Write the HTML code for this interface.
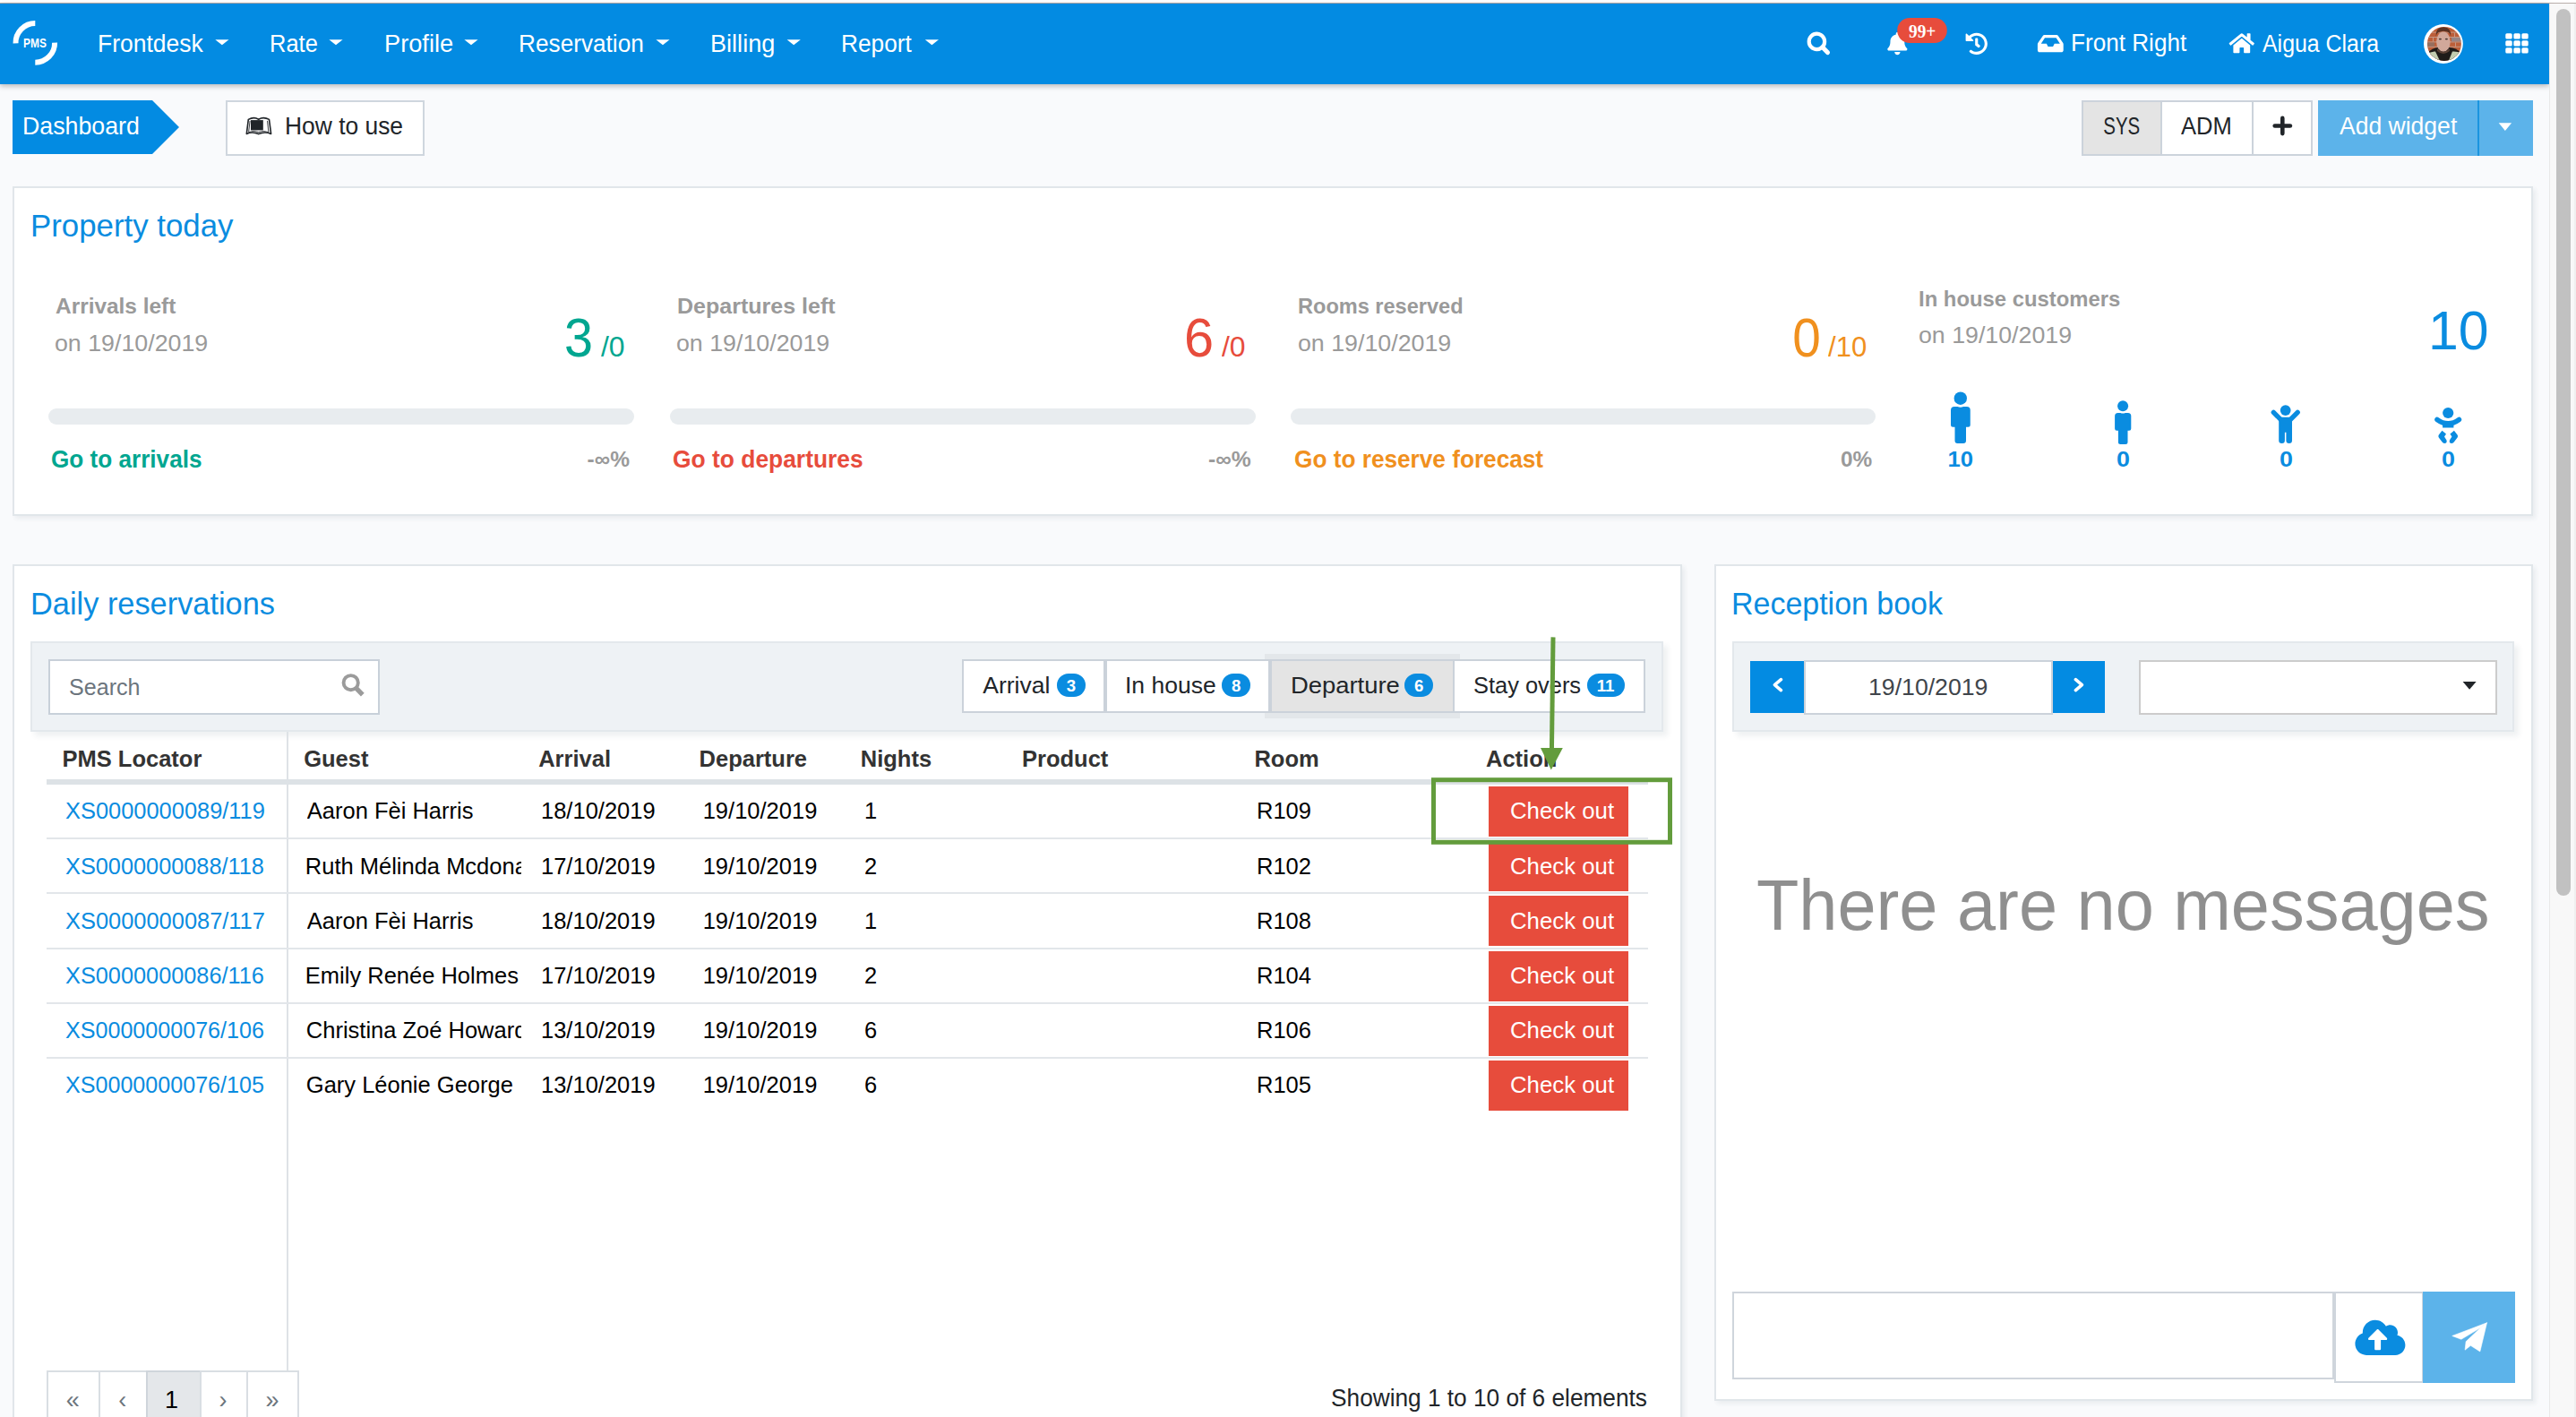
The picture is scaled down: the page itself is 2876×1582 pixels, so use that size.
<!DOCTYPE html>
<html lang="en"><head><meta charset="utf-8"><title>PMS Dashboard</title>
<style>
*{box-sizing:border-box;margin:0;padding:0}
html,body{width:2876px;height:1582px;overflow:hidden;background:#f9fafc;font-family:"Liberation Sans",Arial,sans-serif}
.a{position:absolute}
.t{position:absolute;white-space:nowrap;line-height:1;font-family:"Liberation Sans",Arial,sans-serif}
.card{position:absolute;background:#fff;border:2px solid #e1e6ea;box-shadow:3px 3px 5px rgba(30,50,70,.07)}
.bar{position:absolute;height:18px;border-radius:9px;background:#e8ecef}
.tb{position:absolute;background:#eef2f5;border:2px solid #e3e8ec;box-shadow:5px 5px 6px rgba(30,50,70,.07)}
.hl{position:absolute;background:#e2e6ea;height:2px}
.btn{position:absolute;background:#e74c3c;width:156px;height:56px}
.badge{position:absolute;background:#0a8ce0;height:26px;border-radius:13px;top:752px}
.pg{position:absolute;top:1530px;height:60px;border:2px solid #d9dee3;background:#fff}
</style></head><body>
<!-- browser top edge -->
<div class="a" style="left:0;top:0;width:2876px;height:3px;background:#fff"></div>
<div class="a" style="left:0;top:3px;width:2876px;height:1px;background:#b9aeaa"></div>

<!-- navbar -->
<div class="a" style="left:0;top:4px;width:2846px;height:90px;background:#038be2;box-shadow:0 2px 6px rgba(0,0,0,.28)"></div>
<svg class="a" style="left:0;top:0" width="2846" height="96" viewBox="0 0 2846 96">
  <g fill="none" stroke="#fff" stroke-width="6">
    <path d="M17.5 48.4 A21.8 21.8 0 0 1 39.3 26.1"/>
    <path d="M61.1 47.6 A21.8 21.8 0 0 1 39.3 69.7"/>
  </g>
  <text x="26.1" y="53.1" font-family="Liberation Sans, Arial, sans-serif" font-weight="700" font-size="14.6" fill="#fff" textLength="25.8" lengthAdjust="spacingAndGlyphs">PMS</text>
  <g fill="#fff">
    <polygon points="240.3,44.3 255.5,44.3 247.9,50.3"/>
    <polygon points="367.4,44.3 382.6,44.3 375,50.3"/>
    <polygon points="518.4,44.3 533.6,44.3 526,50.3"/>
    <polygon points="732.4,44.3 747.6,44.3 740,50.3"/>
    <polygon points="878.6,44.3 893.8,44.3 886.2,50.3"/>
    <polygon points="1032.8,44.3 1048,44.3 1040.4,50.3"/>
  </g>
  <!-- search -->
  <g stroke="#fff" fill="none">
    <circle cx="2028.4" cy="46.4" r="8.7" stroke-width="4.2"/>
    <line x1="2034.8" y1="52.8" x2="2040.4" y2="58.6" stroke-width="5" stroke-linecap="round"/>
  </g>
  <!-- bell -->
  <path fill="#fff" transform="translate(2107.3 36) scale(0.0493)" d="M224 512c35.32 0 63.97-28.65 63.97-64H160.03c0 35.35 28.65 64 63.97 64zm215.39-149.71c-19.32-20.76-55.470-51.99-55.47-154.29 0-77.7-54.48-139.9-127.94-155.16V32c0-17.67-14.32-32-31.98-32s-31.98 14.33-31.98 32v20.84C118.56 68.1 64.08 130.3 64.08 208c0 102.3-36.15 133.53-55.47 154.290-6 6.45-8.66 14.16-8.61 21.71.11 16.4 12.98 32 32.1 32h383.8c19.12 0 32-15.6 32.1-32 .05-7.55-2.61-15.27-8.61-21.710z"/>
  <rect x="2118.2" y="20" width="55.6" height="28" rx="14" fill="#e74c3c"/>
  <!-- history -->
  <path fill="#fff" transform="translate(2194.2 36.3) scale(0.049)" d="M504 255.531c.253 136.64-111.18 248.372-247.82 248.468-59.015.042-113.223-20.53-155.822-54.911-11.077-8.94-11.905-25.541-1.839-35.607l11.267-11.267c8.609-8.609 22.353-9.551 31.891-1.984C173.062 425.135 212.781 440 256 440c101.705 0 184-82.311 184-184 0-101.705-82.311-184-184-184-48.814 0-93.149 18.969-126.068 49.932l50.754 50.754c10.080 10.080 2.941 27.314-11.313 27.314H24c-8.837 0-16-7.163-16-16V38.627c0-14.254 17.234-21.393 27.314-11.314l49.372 49.372C129.209 34.136 189.552 8 256 8c136.81 0 247.747 110.78 248 247.531zm-180.912 78.784l9.823-12.63c8.138-10.463 6.253-25.542-4.21-33.679L288 256.349V152c0-13.255-10.745-24-24-24h-16c-13.255 0-24 10.745-24 24v135.651l65.409 50.874c10.463 8.137 25.541 6.253 33.679-4.210z"/>
  <!-- inbox -->
  <path fill="#fff" transform="translate(2274.9 35.9) scale(0.05)" d="M567.938 243.908L462.25 85.374A48.003 48.003 0 0 0 422.311 64H153.689a48 48 0 0 0-39.938 21.374L8.062 243.908A47.994 47.994 0 0 0 0 270.533V400c0 26.51 21.49 48 48 48h480c26.51 0 48-21.490 48-48V270.533a47.994 47.994 0 0 0-8.062-26.625zM162.252 128h251.497l85.333 128H376l-32 64H232l-32-64H76.918l85.334-128z"/>
  <!-- home -->
  <path fill="#fff" transform="translate(2488.7 35.8) scale(0.0489)" d="M280.37 148.26L96 300.11V464a16 16 0 0 0 16 16l112.06-.29a16 16 0 0 0 15.92-16V368a16 16 0 0 1 16-16h64a16 16 0 0 1 16 16v95.64a16 16 0 0 0 16 16.05L464 480a16 16 0 0 0 16-16V300L295.67 148.26a12.19 12.19 0 0 0-15.3 0zM571.6 251.47L488 182.56V44.05a12 12 0 0 0-12-12h-56a12 12 0 0 0-12 12v72.61L318.47 43a48 48 0 0 0-61 0L4.34 251.47a12 12 0 0 0-1.6 16.9l25.5 31A12 12 0 0 0 45.150 301l235.22-193.74a12.19 12.19 0 0 1 15.3 0L530.9 301a12 12 0 0 0 16.9-1.6l25.5-31a12 12 0 0 0-1.7-16.93z"/>
  <!-- avatar -->
  <defs><clipPath id="av"><circle cx="2728.9" cy="48.9" r="19"/></clipPath></defs>
  <circle cx="2727.9" cy="49" r="21.9" fill="#fff"/>
  <g clip-path="url(#av)">
    <rect x="2709" y="29" width="40" height="40" fill="#bd5f3a"/>
    <g fill="#c9b2a6" opacity=".7">
      <rect x="2709" y="35.6" width="40" height="1"/><rect x="2709" y="41" width="40" height="1"/>
      <rect x="2709" y="46.4" width="40" height="1"/><rect x="2709" y="51.8" width="40" height="1"/>
      <rect x="2713" y="29" width="1" height="6.6"/><rect x="2740" y="36.6" width="1" height="4.4"/><rect x="2716" y="42" width="1" height="4.4"/><rect x="2741" y="47.4" width="1" height="4.4"/>
    </g>
    <rect x="2737" y="42" width="11" height="4.4" fill="#8d8f98" opacity=".8"/>
    <rect x="2710" y="47.4" width="8" height="4.4" fill="#7d7a78" opacity=".6"/>
    <path d="M2709 70 L2709 60 Q2716 53 2722 53 L2735 53 Q2742 53 2749 60 L2749 70 Z" fill="#1f1b19"/>
    <path d="M2709 70 L2709 61 Q2714 57 2719 57.5 L2725 70 Z" fill="#c2ccb0"/>
    <path d="M2749 70 L2749 60 Q2744 57 2738 57.5 L2733 70 Z" fill="#c2ccb0"/>
    <ellipse cx="2727.9" cy="46.6" rx="7.8" ry="11.2" fill="#d1a89a"/>
    <path d="M2721 54 Q2727.9 61.5 2734.8 54 L2734.8 57 Q2727.9 63 2721 57 Z" fill="#6a4a3c" opacity=".8"/>
    <ellipse cx="2724.4" cy="43.6" rx="1.6" ry="0.9" fill="#4d3a33"/>
    <ellipse cx="2731.4" cy="43.6" rx="1.6" ry="0.9" fill="#4d3a33"/>
    <path d="M2719.6 41 Q2718.6 30.6 2727.9 30.2 Q2737.4 30.6 2736.2 41 Q2735.2 35.4 2731 35.2 Q2727.9 34.2 2724.6 35.4 Q2720.6 35.6 2719.6 41 Z" fill="#5a3222"/>
  </g>
  <!-- grid -->
  <g fill="#fff">
    <rect x="2797.3" y="37.2" width="7.4" height="6.3" rx="1.6"/><rect x="2806.4" y="37.2" width="7.4" height="6.3" rx="1.6"/><rect x="2815.3" y="37.2" width="7.4" height="6.3" rx="1.6"/>
    <rect x="2797.3" y="45.2" width="7.4" height="6.3" rx="1.6"/><rect x="2806.4" y="45.2" width="7.4" height="6.3" rx="1.6"/><rect x="2815.3" y="45.2" width="7.4" height="6.3" rx="1.6"/>
    <rect x="2797.3" y="53.2" width="7.4" height="6.3" rx="1.6"/><rect x="2806.4" y="53.2" width="7.4" height="6.3" rx="1.6"/><rect x="2815.3" y="53.2" width="7.4" height="6.3" rx="1.6"/>
  </g>
</svg>

<!-- sub header -->
<svg class="a" style="left:0;top:100px" width="210" height="80" viewBox="0 100 210 80"><polygon points="14,112 170,112 200,142 170,172 14,172" fill="#038be2"/></svg>
<div class="a" style="left:252px;top:112px;width:222px;height:62px;background:#fff;border:2px solid #cfd6de"></div>
<svg class="a" style="left:270px;top:126px" width="40" height="30" viewBox="270 126 40 30">
  <rect x="280" y="134.1" width="13.8" height="11.3" fill="#212529"/>
  <path d="M277.3 133.4 Q283.3 130 288.7 133.2 Q294.2 130 300.5 133.4 L302.6 149.4 Q295.6 146.4 288.7 149.6 Q281.8 146.4 275.3 149.4 Z" fill="none" stroke="#212529" stroke-width="1.6" stroke-linejoin="round"/>
  <path d="M279.1 134.9 L277.6 147.6 Q283.4 145.4 288.7 147.5 Q294.1 145.4 299.9 147.6 L298.5 134.9" fill="none" stroke="#212529" stroke-width="0.9"/>
</svg>
<div class="a" style="left:2324px;top:112px;width:258px;height:62px;background:#fff;border:2px solid #ccd3db"></div>
<div class="a" style="left:2326px;top:114px;width:86px;height:58px;background:#e4e4e4"></div>
<div class="a" style="left:2412px;top:114px;width:2px;height:58px;background:#ccd3db"></div>
<div class="a" style="left:2514px;top:114px;width:2px;height:58px;background:#ccd3db"></div>
<svg class="a" style="left:2530px;top:124px" width="36" height="34" viewBox="2530 124 36 34"><g stroke="#212529" stroke-width="4.6" stroke-linecap="round"><line x1="2548.3" y1="131.9" x2="2548.3" y2="149.1"/><line x1="2539.7" y1="140.5" x2="2556.9" y2="140.5"/></g></svg>
<div class="a" style="left:2588px;top:112px;width:240px;height:62px;background:#5cb3ea"></div>
<div class="a" style="left:2766px;top:112px;width:2px;height:62px;background:#1b95df"></div>
<svg class="a" style="left:2785px;top:132px" width="24" height="18" viewBox="2785 132 24 18"><polygon points="2789.7,137.3 2804.1,137.3 2796.9,145.9" fill="#fff"/></svg>

<!-- Property today card -->
<div class="card" style="left:14px;top:208px;width:2814px;height:368px"></div>
<div class="bar" style="left:54px;top:456px;width:654px"></div>
<div class="bar" style="left:747.6px;top:456px;width:654px"></div>
<div class="bar" style="left:1441.2px;top:456px;width:653px"></div>
<svg class="a" style="left:2160px;top:430px" width="600" height="70" viewBox="2160 430 600 70">
  <g fill="#0a8ce0">
    <!-- adult -->
    <circle cx="2188.8" cy="444.7" r="7.2"/>
    <path d="M2182 454 L2185.6 454 Q2188.8 455.4 2192 454 L2195.75 454 Q2199.75 454 2199.75 458 L2199.75 474.3 Q2199.75 476.8 2197.25 476.8 L2195 476.8 L2195 492 Q2195 495 2192 495 L2185.5 495 Q2182.5 495 2182.5 492 L2182.5 476.8 L2180.5 476.8 Q2178 476.8 2178 474.3 L2178 458 Q2178 454 2182 454 Z"/>
    <!-- teen -->
    <circle cx="2370.1" cy="453.2" r="6.0"/>
    <path d="M2364.6 460.9 L2367.4 460.9 Q2370.1 462 2372.8 460.9 L2375.8 460.9 Q2379.3 460.9 2379.3 464.4 L2379.3 478.6 Q2379.3 480.8 2377.1 480.8 L2375.5 480.8 L2375.5 493.4 Q2375.5 495.9 2373 495.9 L2367.4 495.9 Q2364.9 495.9 2364.9 493.4 L2364.9 480.8 L2363.3 480.8 Q2361.1 480.8 2361.1 478.6 L2361.1 464.4 Q2361.1 460.9 2364.6 460.9 Z"/>
    <!-- child -->
    <circle cx="2551.7" cy="458.1" r="5.9"/>
    <g stroke="#0a8ce0" stroke-width="5.4" stroke-linecap="round"><line x1="2538.3" y1="460.3" x2="2546.5" y2="468.6"/><line x1="2565.2" y1="460.3" x2="2557" y2="468.6"/></g>
    <path d="M2544.2 465.8 L2559 465.8 L2559 491.8 Q2559 495.1 2555.7 495.1 Q2552.4 495.1 2552.4 491.8 L2552.4 482.8 L2550.9 482.8 L2550.9 491.8 Q2550.9 495.1 2547.55 495.1 Q2544.2 495.1 2544.2 491.8 Z"/>
    <!-- baby -->
    <circle cx="2733.2" cy="461" r="6.1"/>
    <path d="M2721 468.4 Q2727 472.8 2733.2 472.8 Q2739.4 472.8 2745.4 468.4" fill="none" stroke="#0a8ce0" stroke-width="5.6" stroke-linecap="round"/>
    <rect x="2727.1" y="470" width="12.3" height="7.5"/>
    <path d="M2726.5 480.7 L2731 484.4 L2729 487.4 L2731.4 491.2 Q2732.6 494.8 2729 494.9 Q2727.6 494.9 2726.6 493.6 L2722.8 488.4 Q2721.8 486.9 2722.8 485.5 Z"/>
    <path d="M2739.9 480.7 L2735.4 484.4 L2737.4 487.4 L2735 491.2 Q2733.8 494.8 2737.4 494.9 Q2738.8 494.9 2739.8 493.6 L2743.6 488.4 Q2744.6 486.9 2743.6 485.5 Z"/>
  </g>
</svg>

<!-- Daily reservations card -->
<div class="card" style="left:14px;top:630px;width:1864px;height:1010px"></div>
<div class="tb" style="left:34px;top:716px;width:1823px;height:101px"></div>
<div class="a" style="left:54px;top:736px;width:370px;height:62px;background:#fff;border:2px solid #c8d0d9"></div>
<svg class="a" style="left:376px;top:747px" width="36" height="36" viewBox="376 747 36 36"><g stroke="#9b9b9b" fill="none"><circle cx="391.7" cy="762.2" r="8.1" stroke-width="3.9"/><line x1="398" y1="768.6" x2="404.8" y2="775.6" stroke-width="5.2" stroke-linecap="butt"/></g></svg>
<!-- tabs -->
<div class="a" style="left:1412px;top:730px;width:218px;height:72px;background:#e3e7ea"></div>
<div class="a" style="left:1074px;top:736px;width:344px;height:60px;background:#fff;border:2px solid #cbd2da"></div>
<div class="a" style="left:1232px;top:738px;width:4px;height:56px;background:#cbd2da"></div>
<div class="a" style="left:1418px;top:736px;width:206px;height:60px;background:#e4e4e4;border:2px solid #cbd2da"></div>
<div class="a" style="left:1622px;top:736px;width:215px;height:60px;background:#fff;border:2px solid #cbd2da"></div>
<div class="badge" style="left:1180px;width:32px"></div>
<div class="badge" style="left:1364px;width:32px"></div>
<div class="badge" style="left:1568px;width:32px"></div>
<div class="badge" style="left:1772px;width:42px"></div>
<!-- table lines -->
<div class="a" style="left:320px;top:817px;width:2px;height:713px;background:#dee2e6"></div>
<div class="a" style="left:52px;top:870px;width:1788px;height:6px;background:#dde2e6"></div>
<div class="hl" style="left:52px;top:935.2px;width:1788px"></div>
<div class="hl" style="left:52px;top:996.4px;width:1788px"></div>
<div class="hl" style="left:52px;top:1057.6px;width:1788px"></div>
<div class="hl" style="left:52px;top:1118.8px;width:1788px"></div>
<div class="hl" style="left:52px;top:1180px;width:1788px"></div>
<div class="btn" style="left:1662px;top:878px"></div>
<div class="btn" style="left:1662px;top:939.2px"></div>
<div class="btn" style="left:1662px;top:1000.4px"></div>
<div class="btn" style="left:1662px;top:1061.6px"></div>
<div class="btn" style="left:1662px;top:1122.8px"></div>
<div class="btn" style="left:1662px;top:1184px"></div>
<!-- pagination -->
<div class="pg" style="left:52px;width:60px"></div>
<div class="pg" style="left:110px;width:55px"></div>
<div class="pg" style="left:163px;width:62px;background:#e4e7ea;border-color:#cfd5db"></div>
<div class="pg" style="left:223px;width:54px"></div>
<div class="pg" style="left:275px;width:59px"></div>

<!-- Reception book card -->
<div class="card" style="left:1914px;top:630px;width:914px;height:934px"></div>
<div class="tb" style="left:1934px;top:716px;width:873px;height:101px"></div>
<div class="a" style="left:1954px;top:738px;width:60px;height:58px;background:#038be2"></div>
<div class="a" style="left:2292px;top:738px;width:58px;height:58px;background:#038be2"></div>
<div class="a" style="left:2014px;top:736.5px;width:278px;height:61px;background:#fff;border:2px solid #cbd2da"></div>
<svg class="a" style="left:1970px;top:750px" width="370" height="30" viewBox="1970 750 370 30"><g fill="none" stroke="#fff" stroke-width="3.6" stroke-linecap="round" stroke-linejoin="round"><polyline points="1988.4,758.6 1981.4,764.6 1988.4,770.6"/><polyline points="2317.4,758.6 2324.4,764.6 2317.4,770.6"/></g></svg>
<div class="a" style="left:2388px;top:736.5px;width:400px;height:61px;background:#fff;border:2px solid #cccccc"></div>
<svg class="a" style="left:2745px;top:757px" width="24" height="16" viewBox="2745 757 24 16"><polygon points="2749.6,761 2764.6,761 2757.1,769.8" fill="#212529"/></svg>
<div class="a" style="left:1934px;top:1442px;width:672px;height:98px;background:#fff;border:2px solid #cfd5dc"></div>
<div class="a" style="left:2606px;top:1442px;width:100px;height:102px;background:#fff;border:2px solid #cfd5dc"></div>
<div class="a" style="left:2705px;top:1442px;width:103px;height:102px;background:#5cb3ea"></div>
<svg class="a" style="left:2620px;top:1465px" width="80" height="56" viewBox="2620 1465 80 56">
  <path fill="#0a8ce0" transform="translate(2629.4 1470.9) scale(0.0875)" d="M537.6 226.6c4.1-10.7 6.4-22.4 6.4-34.6 0-53-43-96-96-96-19.7 0-38.1 6-53.3 16.2C367 64.2 315.3 32 256 32c-88.4 0-160 71.6-160 160 0 2.7.1 5.4.2 8.1C40.2 219.8 0 273.2 0 336c0 79.5 64.5 144 144 144h368c70.7 0 128-57.3 128-128 0-61.9-44-113.6-102.4-125.4zM393.4 288H328v112c0 8.8-7.2 16-16 16h-48c-8.8 0-16-7.2-16-16V288h-65.4c-14.3 0-21.4-17.2-11.3-27.3l105.4-105.4c6.2-6.2 16.4-6.2 22.6 0l105.4 105.4c10.1 10.1 2.9 27.3-11.3 27.3z"/>
</svg>
<svg class="a" style="left:2730px;top:1468px" width="56" height="48" viewBox="2730 1468 56 48">
  <g fill="#fff" stroke="#fff" stroke-width="0.6" stroke-linejoin="round">
    <path d="M2737.75 1491.45 L2776.53 1476.77 L2769.55 1482.36 L2747.88 1495.29 Z"/>
    <path d="M2776.53 1476.77 L2768.85 1508.92 L2758.36 1502.28 L2752.08 1507.17 L2753.12 1497.74 L2769.55 1482.36 Z"/>
  </g>
</svg>

<div class="t" style="left:108.60px;top:35.60px;font-size:27px;color:#ffffff;transform:scaleX(0.9802);transform-origin:2.00px 0;">Frontdesk</div>
<div class="t" style="left:301.00px;top:35.60px;font-size:27px;color:#ffffff;transform:scaleX(0.9405);transform-origin:2.00px 0;">Rate</div>
<div class="t" style="left:428.50px;top:35.60px;font-size:27px;color:#ffffff;transform:scaleX(1.0080);transform-origin:2.00px 0;">Profile</div>
<div class="t" style="left:579.30px;top:35.60px;font-size:27px;color:#ffffff;transform:scaleX(0.9698);transform-origin:2.00px 0;">Reservation</div>
<div class="t" style="left:793.30px;top:35.60px;font-size:27px;color:#ffffff;transform:scaleX(1.0041);transform-origin:2.00px 0;">Billing</div>
<div class="t" style="left:939.40px;top:35.60px;font-size:27px;color:#ffffff;transform:scaleX(0.9706);transform-origin:2.00px 0;">Report</div>
<div class="t" style="left:2312.20px;top:35.30px;font-size:27px;color:#ffffff;transform:scaleX(0.9671);transform-origin:2.00px 0;">Front Right</div>
<div class="t" style="left:2526.20px;top:35.50px;font-size:27px;color:#ffffff;transform:scaleX(0.9221);transform-origin:0.00px 0;">Aigua Clara</div>
<div class="t" style="left:2131.00px;top:24.90px;font-size:20px;color:#ffffff;font-weight:700;transform:scaleX(0.9677);transform-origin:0.00px 0;font-family:'Liberation Serif', 'Times New Roman', serif;">99+</div>
<div class="t" style="left:25.30px;top:127.25px;font-size:27.5px;color:#ffffff;transform:scaleX(0.9715);transform-origin:2.00px 0;">Dashboard</div>
<div class="t" style="left:318.30px;top:127.05px;font-size:27.5px;color:#212529;transform:scaleX(0.9588);transform-origin:2.00px 0;">How to use</div>
<div class="t" style="left:2348.10px;top:126.55px;font-size:27.5px;color:#212529;transform:scaleX(0.7432);transform-origin:1.00px 0;">SYS</div>
<div class="t" style="left:2435.00px;top:126.55px;font-size:27.5px;color:#212529;transform:scaleX(0.9290);transform-origin:0.00px 0;">ADM</div>
<div class="t" style="left:2612.10px;top:126.65px;font-size:27.5px;color:#ffffff;transform:scaleX(0.9646);transform-origin:0.00px 0;">Add widget</div>
<div class="t" style="left:33.70px;top:235.45px;font-size:34.5px;color:#0a8ce0;transform:scaleX(1.0093);transform-origin:2.00px 0;">Property today</div>
<div class="t" style="left:61.80px;top:330.05px;font-size:24.5px;color:#9a9a9a;font-weight:700;transform:scaleX(0.9966);transform-origin:0.00px 0;">Arrivals left</div>
<div class="t" style="left:61.40px;top:371.05px;font-size:25.5px;color:#9a9a9a;transform:scaleX(1.0504);transform-origin:1.00px 0;">on 19/10/2019</div>
<div class="t" style="left:57.40px;top:498.65px;font-size:27.3px;color:#00a690;font-weight:700;transform:scaleX(0.9571);transform-origin:1.00px 0;">Go to arrivals</div>
<div class="t" style="left:755.90px;top:330.05px;font-size:24.5px;color:#9a9a9a;font-weight:700;transform:scaleX(1.0218);transform-origin:1.00px 0;">Departures left</div>
<div class="t" style="left:755.00px;top:371.05px;font-size:25.5px;color:#9a9a9a;transform:scaleX(1.0504);transform-origin:1.00px 0;">on 19/10/2019</div>
<div class="t" style="left:751.00px;top:498.65px;font-size:27.3px;color:#e74c3c;font-weight:700;transform:scaleX(0.9669);transform-origin:1.00px 0;">Go to departures</div>
<div class="t" style="left:1449.30px;top:330.05px;font-size:24.5px;color:#9a9a9a;font-weight:700;transform:scaleX(0.9609);transform-origin:1.00px 0;">Rooms reserved</div>
<div class="t" style="left:1448.60px;top:371.05px;font-size:25.5px;color:#9a9a9a;transform:scaleX(1.0504);transform-origin:1.00px 0;">on 19/10/2019</div>
<div class="t" style="left:1444.60px;top:498.65px;font-size:27.3px;color:#f0901e;font-weight:700;transform:scaleX(0.9595);transform-origin:1.00px 0;">Go to reserve forecast</div>
<div class="t" style="left:629.70px;top:347.10px;font-size:61px;color:#00a690;transform:scaleX(0.9433);transform-origin:2.00px 0;">3</div>
<div class="t" style="left:670.60px;top:372.05px;font-size:30.5px;color:#00a690;transform:scaleX(1.0460);transform-origin:0.00px 0;">/0</div>
<div class="t" style="left:1322.20px;top:347.10px;font-size:61px;color:#e74c3c;transform:scaleX(0.9759);transform-origin:3.00px 0;">6</div>
<div class="t" style="left:1364.20px;top:372.05px;font-size:30.5px;color:#e74c3c;transform:scaleX(1.0460);transform-origin:0.00px 0;">/0</div>
<div class="t" style="left:2001.10px;top:347.10px;font-size:61px;color:#f0901e;transform:scaleX(0.9300);transform-origin:2.00px 0;">0</div>
<div class="t" style="left:2040.90px;top:371.75px;font-size:30.5px;color:#f0901e;transform:scaleX(1.0184);transform-origin:0.00px 0;">/10</div>
<div class="t" style="left:655.60px;top:501.15px;font-size:24.5px;color:#9a9a9a;font-weight:700;">-∞%</div>
<div class="t" style="left:1348.60px;top:501.15px;font-size:24.5px;color:#9a9a9a;font-weight:700;transform:scaleX(1.0079);transform-origin:0.00px 0;">-∞%</div>
<div class="t" style="left:2054.50px;top:501.15px;font-size:24.5px;color:#9a9a9a;font-weight:700;transform:scaleX(0.9937);transform-origin:0.00px 0;">0%</div>
<div class="t" style="left:2142.00px;top:321.75px;font-size:24.5px;color:#9a9a9a;font-weight:700;transform:scaleX(0.9729);transform-origin:1.00px 0;">In house customers</div>
<div class="t" style="left:2142.00px;top:362.05px;font-size:25.5px;color:#9a9a9a;transform:scaleX(1.0492);transform-origin:1.00px 0;">on 19/10/2019</div>
<div class="t" style="left:2711.00px;top:339.30px;font-size:61px;color:#0a8ce0;transform:scaleX(0.9947);transform-origin:4.00px 0;">10</div>
<div class="t" style="left:2176.00px;top:502.10px;font-size:23px;color:#0a8ce0;font-weight:700;transform:scaleX(1.1138);transform-origin:12.90px 0;">10</div>
<div class="t" style="left:2364.00px;top:502.10px;font-size:23px;color:#0a8ce0;font-weight:700;transform:scaleX(1.1667);transform-origin:6.00px 0;">0</div>
<div class="t" style="left:2545.60px;top:502.10px;font-size:23px;color:#0a8ce0;font-weight:700;transform:scaleX(1.1667);transform-origin:6.00px 0;">0</div>
<div class="t" style="left:2726.70px;top:502.10px;font-size:23px;color:#0a8ce0;font-weight:700;transform:scaleX(1.1667);transform-origin:6.00px 0;">0</div>
<div class="t" style="left:33.60px;top:656.95px;font-size:34.5px;color:#0a8ce0;transform:scaleX(0.9955);transform-origin:2.00px 0;">Daily reservations</div>
<div class="t" style="left:76.70px;top:753.75px;font-size:26.5px;color:#6c757d;transform:scaleX(0.9462);transform-origin:1.00px 0;">Search</div>
<div class="t" style="left:1097.30px;top:752.05px;font-size:26.5px;color:#212529;">Arrival</div>
<div class="t" style="left:1256.00px;top:752.05px;font-size:26.5px;color:#212529;">In house</div>
<div class="t" style="left:1440.50px;top:752.05px;font-size:26.5px;color:#212529;transform:scaleX(1.0347);transform-origin:2.00px 0;">Departure</div>
<div class="t" style="left:1645.40px;top:752.05px;font-size:26.5px;color:#212529;transform:scaleX(0.9585);transform-origin:1.00px 0;">Stay overs</div>
<div class="t" style="left:1190.80px;top:756.50px;font-size:18.6px;color:#ffffff;font-weight:700;">3</div>
<div class="t" style="left:1374.90px;top:756.50px;font-size:18.6px;color:#ffffff;font-weight:700;">8</div>
<div class="t" style="left:1578.90px;top:756.50px;font-size:18.6px;color:#ffffff;font-weight:700;">6</div>
<div class="t" style="left:1782.64px;top:756.50px;font-size:18.6px;color:#ffffff;font-weight:700;">11</div>
<div class="t" style="left:69.50px;top:835.35px;font-size:25.5px;color:#333333;font-weight:700;">PMS Locator</div>
<div class="t" style="left:339.20px;top:835.35px;font-size:25.5px;color:#333333;font-weight:700;">Guest</div>
<div class="t" style="left:601.20px;top:835.35px;font-size:25.5px;color:#333333;font-weight:700;">Arrival</div>
<div class="t" style="left:780.60px;top:835.35px;font-size:25.5px;color:#333333;font-weight:700;">Departure</div>
<div class="t" style="left:960.80px;top:835.35px;font-size:25.5px;color:#333333;font-weight:700;">Nights</div>
<div class="t" style="left:1141.00px;top:835.35px;font-size:25.5px;color:#333333;font-weight:700;">Product</div>
<div class="t" style="left:1400.40px;top:835.35px;font-size:25.5px;color:#333333;font-weight:700;">Room</div>
<div class="t" style="left:1659.00px;top:835.35px;font-size:25.5px;color:#333333;font-weight:700;">Action</div>
<div class="t" style="left:73.30px;top:893.35px;font-size:25.5px;color:#0a8ce0;transform:scaleX(0.9969);transform-origin:0.00px 0;">XS0000000089/119</div>
<div class="t" style="left:342.80px;top:893.35px;font-size:25.5px;color:#000;width:239.7px;overflow:hidden;">Aaron Fèi Harris</div>
<div class="t" style="left:604.00px;top:893.35px;font-size:25.5px;color:#000;">18/10/2019</div>
<div class="t" style="left:784.70px;top:893.35px;font-size:25.5px;color:#000;">19/10/2019</div>
<div class="t" style="left:964.90px;top:893.35px;font-size:25.5px;color:#000;">1</div>
<div class="t" style="left:1403.00px;top:893.35px;font-size:25.5px;color:#000;">R109</div>
<div class="t" style="left:1685.80px;top:893.35px;font-size:25.5px;color:#ffffff;transform:scaleX(1.0112);transform-origin:1.00px 0;">Check out</div>
<div class="t" style="left:73.30px;top:954.55px;font-size:25.5px;color:#0a8ce0;transform:scaleX(0.9924);transform-origin:0.00px 0;">XS0000000088/118</div>
<div class="t" style="left:340.80px;top:954.55px;font-size:25.5px;color:#000;width:241.7px;overflow:hidden;">Ruth Mélinda Mcdonald</div>
<div class="t" style="left:604.00px;top:954.55px;font-size:25.5px;color:#000;">17/10/2019</div>
<div class="t" style="left:784.70px;top:954.55px;font-size:25.5px;color:#000;">19/10/2019</div>
<div class="t" style="left:964.90px;top:954.55px;font-size:25.5px;color:#000;">2</div>
<div class="t" style="left:1403.00px;top:954.55px;font-size:25.5px;color:#000;">R102</div>
<div class="t" style="left:1685.80px;top:954.55px;font-size:25.5px;color:#ffffff;transform:scaleX(1.0112);transform-origin:1.00px 0;">Check out</div>
<div class="t" style="left:73.30px;top:1015.75px;font-size:25.5px;color:#0a8ce0;transform:scaleX(0.9969);transform-origin:0.00px 0;">XS0000000087/117</div>
<div class="t" style="left:342.80px;top:1015.75px;font-size:25.5px;color:#000;width:239.7px;overflow:hidden;">Aaron Fèi Harris</div>
<div class="t" style="left:604.00px;top:1015.75px;font-size:25.5px;color:#000;">18/10/2019</div>
<div class="t" style="left:784.70px;top:1015.75px;font-size:25.5px;color:#000;">19/10/2019</div>
<div class="t" style="left:964.90px;top:1015.75px;font-size:25.5px;color:#000;">1</div>
<div class="t" style="left:1403.00px;top:1015.75px;font-size:25.5px;color:#000;">R108</div>
<div class="t" style="left:1685.80px;top:1015.75px;font-size:25.5px;color:#ffffff;transform:scaleX(1.0112);transform-origin:1.00px 0;">Check out</div>
<div class="t" style="left:73.30px;top:1076.95px;font-size:25.5px;color:#0a8ce0;transform:scaleX(0.9924);transform-origin:0.00px 0;">XS0000000086/116</div>
<div class="t" style="left:340.80px;top:1076.95px;font-size:25.5px;color:#000;width:241.7px;overflow:hidden;">Emily Renée Holmes</div>
<div class="t" style="left:604.00px;top:1076.95px;font-size:25.5px;color:#000;">17/10/2019</div>
<div class="t" style="left:784.70px;top:1076.95px;font-size:25.5px;color:#000;">19/10/2019</div>
<div class="t" style="left:964.90px;top:1076.95px;font-size:25.5px;color:#000;">2</div>
<div class="t" style="left:1403.00px;top:1076.95px;font-size:25.5px;color:#000;">R104</div>
<div class="t" style="left:1685.80px;top:1076.95px;font-size:25.5px;color:#ffffff;transform:scaleX(1.0112);transform-origin:1.00px 0;">Check out</div>
<div class="t" style="left:73.30px;top:1138.15px;font-size:25.5px;color:#0a8ce0;transform:scaleX(0.9841);transform-origin:0.00px 0;">XS0000000076/106</div>
<div class="t" style="left:341.80px;top:1138.15px;font-size:25.5px;color:#000;width:240.7px;overflow:hidden;">Christina Zoé Howard</div>
<div class="t" style="left:604.00px;top:1138.15px;font-size:25.5px;color:#000;">13/10/2019</div>
<div class="t" style="left:784.70px;top:1138.15px;font-size:25.5px;color:#000;">19/10/2019</div>
<div class="t" style="left:964.90px;top:1138.15px;font-size:25.5px;color:#000;">6</div>
<div class="t" style="left:1403.00px;top:1138.15px;font-size:25.5px;color:#000;">R106</div>
<div class="t" style="left:1685.80px;top:1138.15px;font-size:25.5px;color:#ffffff;transform:scaleX(1.0112);transform-origin:1.00px 0;">Check out</div>
<div class="t" style="left:73.30px;top:1199.35px;font-size:25.5px;color:#0a8ce0;transform:scaleX(0.9841);transform-origin:0.00px 0;">XS0000000076/105</div>
<div class="t" style="left:341.80px;top:1199.35px;font-size:25.5px;color:#000;width:240.7px;overflow:hidden;">Gary Léonie George</div>
<div class="t" style="left:604.00px;top:1199.35px;font-size:25.5px;color:#000;">13/10/2019</div>
<div class="t" style="left:784.70px;top:1199.35px;font-size:25.5px;color:#000;">19/10/2019</div>
<div class="t" style="left:964.90px;top:1199.35px;font-size:25.5px;color:#000;">6</div>
<div class="t" style="left:1403.00px;top:1199.35px;font-size:25.5px;color:#000;">R105</div>
<div class="t" style="left:1685.80px;top:1199.35px;font-size:25.5px;color:#ffffff;transform:scaleX(1.0112);transform-origin:1.00px 0;">Check out</div>
<div class="t" style="left:1485.80px;top:1546.75px;font-size:27.5px;color:#212529;transform:scaleX(0.9538);transform-origin:1.00px 0;">Showing 1 to 10 of 6 elements</div>
<div class="t" style="left:73.70px;top:1549.50px;font-size:27px;color:#6c757d;">«</div>
<div class="t" style="left:132.20px;top:1549.50px;font-size:27px;color:#6c757d;">‹</div>
<div class="t" style="left:184.00px;top:1549.50px;font-size:27px;color:#000;">1</div>
<div class="t" style="left:244.50px;top:1549.50px;font-size:27px;color:#6c757d;">›</div>
<div class="t" style="left:296.50px;top:1549.50px;font-size:27px;color:#6c757d;">»</div>
<div class="t" style="left:1933.30px;top:656.75px;font-size:34.5px;color:#0a8ce0;transform:scaleX(0.9841);transform-origin:2.00px 0;">Reception book</div>
<div class="t" style="left:2085.90px;top:753.65px;font-size:26.5px;color:#3f454b;transform:scaleX(1.0062);transform-origin:2.00px 0;">19/10/2019</div>
<div class="t" style="left:1961.00px;top:970.60px;font-size:79px;color:#8f8f8f;transform:scaleX(0.9810);transform-origin:1.00px 0;">There are no messages</div>

<!-- annotation -->
<svg class="a" style="left:1590px;top:700px" width="290" height="250" viewBox="1590 700 290 250">
  <g fill="none" stroke="#639c3c" stroke-width="5"><rect x="1600.5" y="870.7" width="264" height="69.6"/></g>
  <line x1="1734" y1="711.4" x2="1732.4" y2="840" stroke="#639c3c" stroke-width="5"/>
  <polygon points="1720,835 1744.8,835 1731.8,859.5" fill="#639c3c"/>
</svg>
<!-- scrollbar -->
<div class="a" style="left:2846px;top:4px;width:30px;height:1578px;background:#f8f8f8;border-left:1px solid #e9e9e9;border-right:2px solid #efefef"></div>
<div class="a" style="left:2854px;top:10px;width:16px;height:990px;border-radius:8px;background:#c1c1c1"></div>
<script>(function(){var w=window.innerWidth;if(w&&Math.abs(w-2876)>2){document.documentElement.style.zoom=(w/2876);}})();</script>
</body></html>
